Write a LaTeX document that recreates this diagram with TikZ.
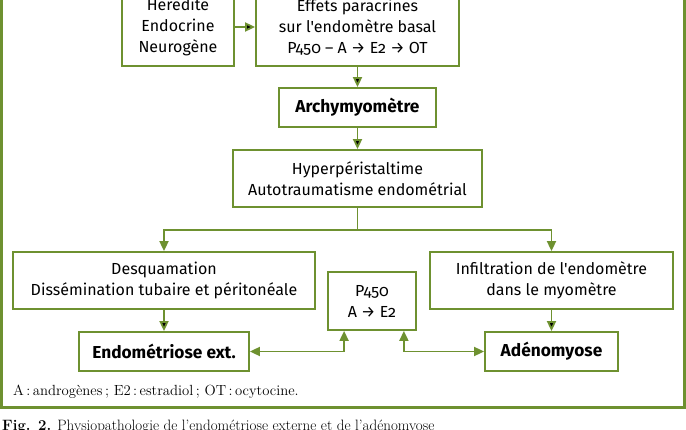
\documentclass[tikz,border=0pt]{standalone}
\usepackage{fontspec}
\newfontfamily\figsans{Fira Sans}[Numbers=OldStyle]
\usetikzlibrary{arrows.meta}
\definecolor{leaf}{RGB}{110,145,48}

\begin{document}
\begin{tikzpicture}[x=1pt,y=-1pt,
    box/.style={draw=leaf,line width=1.8pt,align=center,inner sep=0pt,
      font=\figsans\fontsize{16}{21}\selectfont},
    key/.style={box,font=\figsans\bfseries\fontsize{17.3}{21}\selectfont},
    link/.style={draw=leaf,line width=1.8pt},
    arr/.style={link,-{Triangle[length=10pt,width=9pt]}},
    dbl/.style={link,{Triangle[length=10pt,width=9pt]}-{Triangle[length=10pt,width=9pt]}}]
                \useasboundingbox (0,0) rectangle (686,430);
                \clip (0,0) rectangle (686,430);
                \draw[leaf,line width=3pt] (1.5,-40) rectangle (684.5,407.5);
                \node[box,minimum width=112pt,minimum height=78pt] (her) at (178,27) {Hérédité\\Endocrine\\Neurogène};
                \node[box,minimum width=203pt,minimum height=78pt] (eff) at (357.5,27) {Effets paracrines\\sur l'endomètre basal\\P450 – A → E2 → OT};
                \node[key,minimum width=157pt,minimum height=39pt] (arch) at (357.5,107.5) {Archymyomètre};
                \node[box,minimum width=249pt,minimum height=57pt] (hyp) at (357.5,178.5) {Hyperpéristaltime\\Autotraumatisme endométrial};
                \coordinate (fork) at (357.5,230);
                \node[box,minimum width=302pt,minimum height=57pt] (desq) at (164,280.5) {Desquamation\\Dissémination tubaire et péritonéale};
                \node[box,minimum width=243pt,minimum height=57pt] (infi) at (551.5,280.5) {Infiltration de l'endomètre\\dans le myomètre};
                \node[box,minimum width=88pt,minimum height=58pt] (pfc) at (372,301) {P450\\A → E2};
                \node[key,minimum width=170pt,minimum height=39pt] (endo) at (164,351.5) {Endométriose ext.};
                \node[key,minimum width=133pt,minimum height=39pt] (aden) at (551.5,351.5) {Adénomyose};
                \node[anchor=west,inner sep=0pt,font=\fontsize{14.7}{17}\selectfont] (note) at (13,392) {A\,:\,androgènes\,; E2\,:\,estradiol\,; OT\,:\,ocytocine.};
                \node[anchor=base west,inner sep=0pt,font=\fontsize{15}{17}\selectfont] (cap) at (2,431) {\textbf{Fig. 2.} Physiopathologie de l'endométriose externe et de l'adénomyose};
                \path[arr] (her) edge (eff)
                           (eff) edge (arch)
                           (arch) edge (hyp)
                           (desq) edge (endo)
                           (infi) edge (aden);
                \draw[link] (hyp) -- (fork);
                \draw[arr] (fork) -| (desq);
                \draw[arr] (fork) -| (infi);
                \draw[dbl] (endo) -| ([xshift=17pt]pfc.south west);
                \draw[dbl] ([xshift=-13pt]pfc.south east) |- (aden);
            \end{tikzpicture}
\end{document}
